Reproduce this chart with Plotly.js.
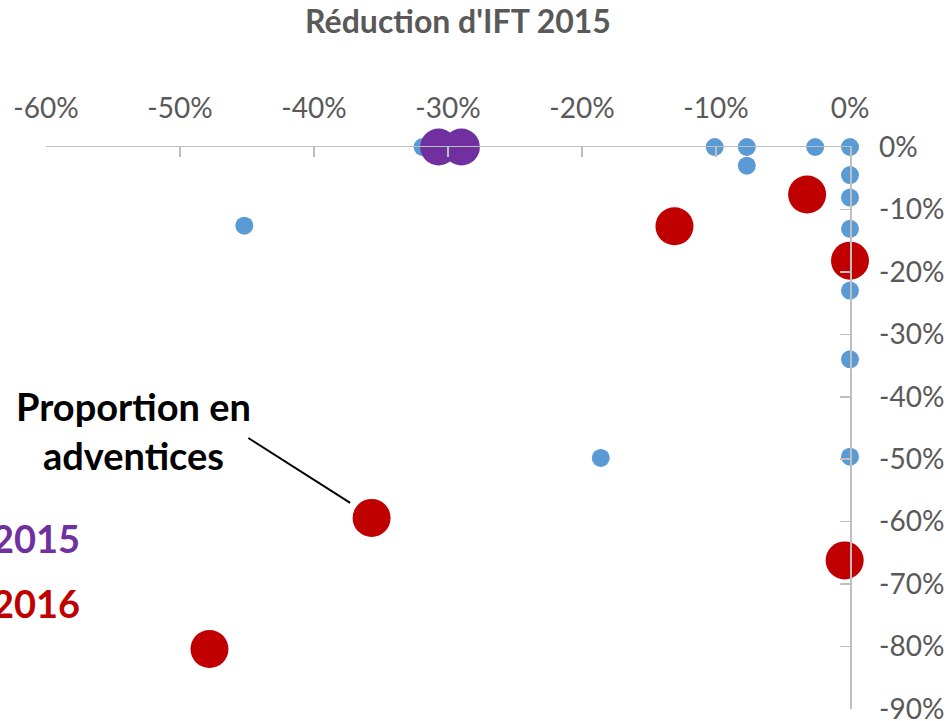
<!DOCTYPE html>
<html><head><meta charset="utf-8">
<script src="https://cdn.plot.ly/plotly-3.0.1.min.js"></script>
<style>html,body{margin:0;padding:0;background:#fff}#chart{width:948px;height:721px}</style>
</head><body><div id="chart"></div>
<script>
// Réduction d'IFT (x, %) vs réduction proportion adventices (y, %)
const blueX = [-31.9, -45.2, -10.1, -7.7, -7.7, -2.6, 0, 0, 0, 0, 0, 0, 0, -18.6];
const blueY = [0, -12.6, 0, 0, -3.0, 0, 0, -4.5, -8.1, -13.1, -23.0, -34.0, -49.6, -49.8];
const purpleX = [-30.7, -29.0];
const purpleY = [0, 0];
const redX = [-3.2, -13.1, 0, -35.7, -47.8, -0.4];
const redY = [-7.6, -12.7, -18.2, -59.4, -80.4, -66.2];
const xTicks = [-60, -50, -40, -30, -20, -10, 0];
const xTickText = ['-60%', '-50%', '-40%', '-30%', '-20%', '-10%', '0%'];
const yTicks = [0, -10, -20, -30, -40, -50, -60, -70, -80, -90];
const yTickText = ['0%', '-10%', '-20%', '-30%', '-40%', '-50%', '-60%', '-70%', '-80%', '-90%'];

const FONT = 'Lato, "Liberation Sans", sans-serif';
const traces = [
  {x: blueX, y: blueY, mode: 'markers', type: 'scatter', cliponaxis: false,
   marker: {color: '#5B9BD5', size: 18}, name: 'points'},
  {x: purpleX, y: purpleY, mode: 'markers', type: 'scatter', cliponaxis: false,
   marker: {color: '#7030A0', size: 37}, name: '2015'},
  {x: redX, y: redY, mode: 'markers', type: 'scatter', cliponaxis: false,
   marker: {color: '#C00000', size: 38}, name: '2016'}
];
const L = 46, R = 850, T = 146.5, B = 709;
const px = v => (v - L) / (R - L);
const py = v => (B - v) / (B - T);
const layout = {
  width: 948, height: 721,
  margin: {l: L, r: 948 - R, t: T, b: 721 - B},
  paper_bgcolor: '#fff', plot_bgcolor: '#fff',
  showlegend: false,
  font: {family: FONT, color: '#595959'},
  title: {text: "<b>Réduction d'IFT 2015</b>", x: 458/948, xref: 'container', xanchor: 'center',
          y: 1 - 22/721, yref: 'container', yanchor: 'middle',
          font: {family: FONT, size: 32, color: '#595959'}},
  xaxis: {range: [-60, 0], side: 'top', tickmode: 'array', tickvals: xTicks, ticktext: xTickText,
          showgrid: false, zeroline: false, showline: true, linecolor: '#BFBFBF', linewidth: 1.5,
          ticks: 'inside', ticklen: 10, tickcolor: '#BFBFBF', tickwidth: 1.5,
          ticklabelstandoff: 16, ticklabeloverflow: 'allow',
          tickfont: {family: FONT, size: 28, color: '#595959'}},
  yaxis: {range: [-90, 0], side: 'right', tickmode: 'array', tickvals: yTicks, ticktext: yTickText,
          showgrid: false, zeroline: false, showline: true, linecolor: '#BFBFBF', linewidth: 1.5,
          ticks: 'inside', ticklen: 10, tickcolor: '#BFBFBF', tickwidth: 1.5,
          ticklabelstandoff: 22, ticklabeloverflow: 'allow',
          tickfont: {family: FONT, size: 28, color: '#595959'}},
  shapes: [{type: 'line', xref: 'x', yref: 'y', x0: -44.9, y0: -46.6, x1: -37.3, y1: -57.0,
            line: {color: '#000', width: 2}}],
  annotations: [
    {text: '<b>Proportion en<br>adventices</b>', xref: 'paper', yref: 'paper',
     x: px(133), y: py(430), xanchor: 'center', yanchor: 'middle', showarrow: false,
     font: {family: FONT, size: 38, color: '#000'}},
    {text: '<b>2015</b>', xref: 'paper', yref: 'paper', x: px(82), y: py(538),
     xanchor: 'right', yanchor: 'middle', showarrow: false,
     font: {family: FONT, size: 38, color: '#7030A0'}},
    {text: '<b>2016</b>', xref: 'paper', yref: 'paper', x: px(82), y: py(603),
     xanchor: 'right', yanchor: 'middle', showarrow: false,
     font: {family: FONT, size: 38, color: '#C00000'}}
  ]
};
Plotly.newPlot('chart', traces, layout, {displayModeBar: false, staticPlot: true});
</script></body></html>
